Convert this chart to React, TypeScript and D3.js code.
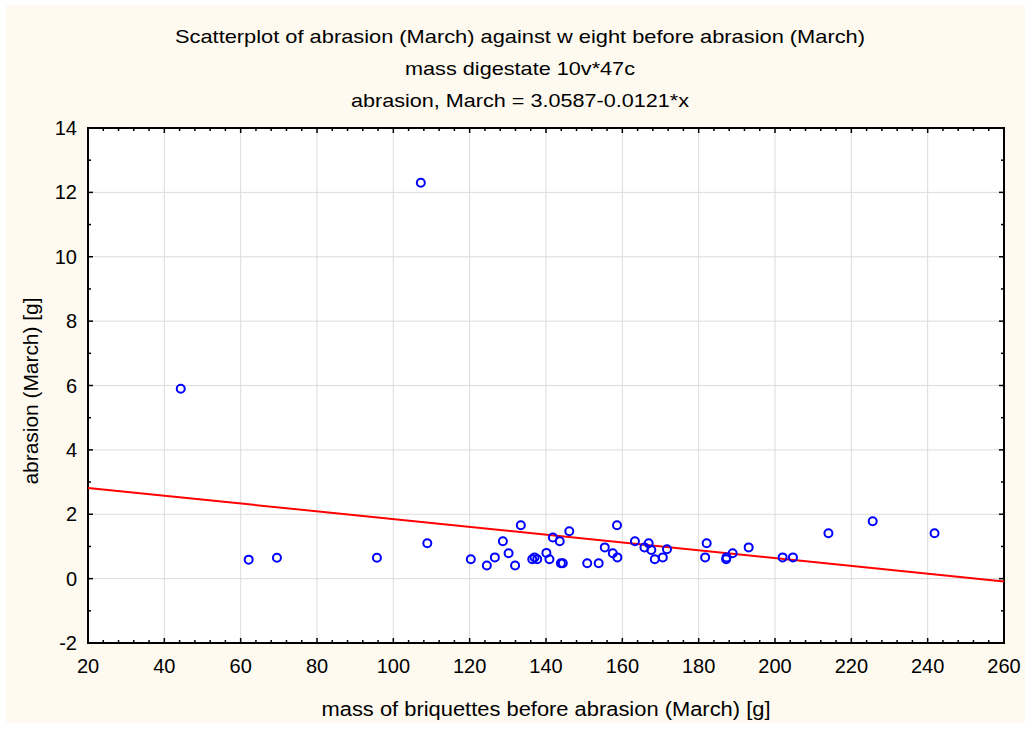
import React from "react";
import * as d3 from "d3";

// Sample: mass before abrasion (g) and abrasion (g), March series
const massBefore: number[] = [
  44.3, 62.1, 69.5, 95.7, 107.2, 108.9, 120.3, 124.5, 126.6, 128.7,
  130.2, 131.9, 133.4, 136.4, 137.0, 137.7, 140.1, 140.9, 141.8, 143.6,
  143.9, 144.4, 146.1, 150.8, 153.8, 155.4, 157.5, 158.6, 158.7, 163.3,
  165.8, 166.9, 167.6, 168.5, 170.6, 171.7, 181.7, 182.1, 187.2, 187.3,
  188.9, 193.1, 202.0, 204.7, 214.0, 225.6, 241.8,
];
const abrasion: number[] = [
  5.9, 0.59, 0.65, 0.65, 12.3, 1.1, 0.6, 0.41, 0.66, 1.16,
  0.79, 0.41, 1.66, 0.6, 0.66, 0.6, 0.8, 0.6, 1.28, 1.16,
  0.48, 0.48, 1.47, 0.48, 0.48, 0.97, 0.79, 1.66, 0.66, 1.16,
  0.97, 1.1, 0.89, 0.6, 0.66, 0.91, 0.66, 1.1, 0.6, 0.66,
  0.79, 0.97, 0.66, 0.66, 1.41, 1.78, 1.41,
];

const xTicks: number[] = [20, 40, 60, 80, 100, 120, 140, 160, 180, 200, 220, 240, 260];
const yTicks: number[] = [-2, 0, 2, 4, 6, 8, 10, 12, 14];

const fitIntercept = 3.0587;
const fitSlope = -0.0121;

const titleLines: string[] = [
  "Scatterplot of abrasion (March) against w eight before abrasion (March)",
  "mass digestate 10v*47c",
  "abrasion, March = 3.0587-0.0121*x",
];
const xLabel = "mass of briquettes before abrasion (March) [g]";
const yLabel = "abrasion (March) [g]";

const W = 1031;
const H = 729;
const left = 88;
const right = 1004;
const top = 128;
const bottom = 643;
const font = "'Liberation Sans', Arial, sans-serif";

export default function App() {
  const x = d3.scaleLinear().domain([20, 260]).range([left, right]);
  const y = d3.scaleLinear().domain([-2, 14]).range([bottom, top]);

  const xMinor = d3.range(20, 260.001, 4);
  const yMinor = d3.range(-2, 14.001, 1);

  const fit = d3
    .line<number>()
    .x((v) => x(v))
    .y((v) => y(fitIntercept + fitSlope * v));

  const titleWidths = [690, 230, 338];
  const titleY = [43, 75, 107];

  return (
    <svg
      width={W}
      height={H}
      style={{ position: "absolute", left: 0, top: 0, background: "#ffffff" }}
      fontFamily={font}
    >
      <rect x={6} y={5} width={1019} height={718} fill="#fefaf0" />
      <rect x={left} y={top} width={right - left} height={bottom - top} fill="#ffffff" />

      {/* grid */}
      {xTicks.slice(1, -1).map((t) => (
        <line key={"gx" + t} x1={x(t)} x2={x(t)} y1={top} y2={bottom} stroke="#dcdcdc" strokeWidth={1} />
      ))}
      {yTicks.slice(1, -1).map((t) => (
        <line key={"gy" + t} x1={left} x2={right} y1={y(t)} y2={y(t)} stroke="#dcdcdc" strokeWidth={1} />
      ))}

      {/* minor / major ticks, inward on all four sides */}
      {xMinor.map((t) => {
        const major = xTicks.includes(Math.round(t));
        const len = major ? 5 : 3;
        return (
          <g key={"tx" + t} stroke="#000" strokeWidth={1.5}>
            <line x1={x(t)} x2={x(t)} y1={bottom} y2={bottom - len} />
            <line x1={x(t)} x2={x(t)} y1={top} y2={top + len} />
          </g>
        );
      })}
      {yMinor.map((t) => {
        const major = yTicks.includes(Math.round(t));
        const len = major ? 5 : 3;
        return (
          <g key={"ty" + t} stroke="#000" strokeWidth={1.5}>
            <line x1={left} x2={left + len} y1={y(t)} y2={y(t)} />
            <line x1={right} x2={right - len} y1={y(t)} y2={y(t)} />
          </g>
        );
      })}

      <rect x={left} y={top} width={right - left} height={bottom - top} fill="none" stroke="#000" strokeWidth={2} />

      {/* regression line */}
      <path d={fit([20, 260]) || ""} fill="none" stroke="#ff0000" strokeWidth={2} />

      {/* points */}
      {massBefore.map((m, i) => (
        <circle key={"p" + i} cx={x(m)} cy={y(abrasion[i])} r={4} fill="none" stroke="#0000ff" strokeWidth={2} />
      ))}

      {/* tick labels */}
      {xTicks.map((t) => (
        <text key={"lx" + t} x={x(t)} y={673} textAnchor="middle" fontSize={20} fill="#000">
          {t}
        </text>
      ))}
      {yTicks.map((t) => (
        <text key={"ly" + t} x={77} y={y(t) + 7} textAnchor="end" fontSize={20} fill="#000">
          {t}
        </text>
      ))}

      {/* titles */}
      {titleLines.map((s, i) => (
        <text
          key={"t" + i}
          x={520}
          y={titleY[i]}
          textAnchor="middle"
          fontSize={18.5}
          fill="#000"
          textLength={titleWidths[i]}
          lengthAdjust="spacingAndGlyphs"
        >
          {s}
        </text>
      ))}

      <text
        x={546}
        y={716}
        textAnchor="middle"
        fontSize={20}
        fill="#000"
        textLength={449}
        lengthAdjust="spacingAndGlyphs"
      >
        {xLabel}
      </text>
      <text
        transform="translate(38,391) rotate(-90)"
        textAnchor="middle"
        fontSize={20}
        fill="#000"
        textLength={187}
        lengthAdjust="spacingAndGlyphs"
      >
        {yLabel}
      </text>
    </svg>
  );
}
